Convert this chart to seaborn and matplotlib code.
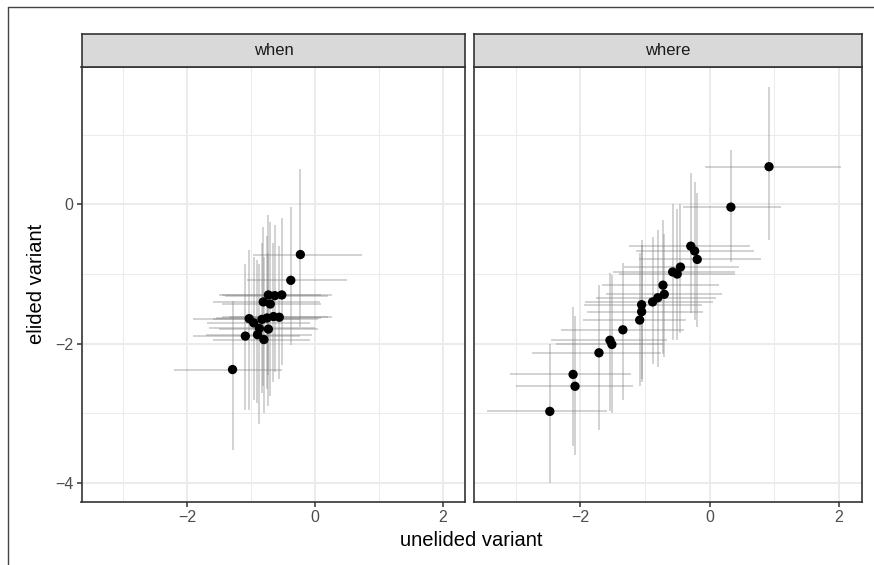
import numpy as np
import pandas as pd
import matplotlib.pyplot as plt
import seaborn as sns
from matplotlib.lines import Line2D

# "when" panel: point estimates and interval ends
when_x = [-0.23, -0.38, -0.73, -0.63, -0.52, -0.81, -0.70, -1.03, -0.96, -0.83,
          -0.75, -0.65, -0.56, -0.87, -0.73, -1.09, -0.90, -0.80, -1.29]
when_y = [-0.72, -1.09, -1.30, -1.31, -1.30, -1.40, -1.43, -1.64, -1.70, -1.65,
          -1.63, -1.61, -1.62, -1.78, -1.79, -1.89, -1.87, -1.94, -2.37]
when_xlo = [-0.97, -1.07, -1.50, -1.40, -1.46, -1.59, -1.45, -1.91, -1.69, -1.60,
            -1.55, -1.45, -1.35, -1.65, -1.50, -1.90, -1.70, -1.59, -2.20]
when_xhi = [0.73, 0.50, 0.10, 0.20, 0.27, 0.08, 0.10, -0.23, -0.08, 0.05,
            0.10, 0.27, 0.20, 0.00, 0.05, -0.23, -0.05, -0.08, -0.52]
when_ylo = [-1.76, -2.02, -2.45, -2.40, -2.30, -2.60, -2.75, -2.95, -2.80, -2.70,
            -2.65, -2.55, -2.50, -3.15, -2.90, -2.95, -2.85, -3.00, -3.52]
when_yhi = [0.51, -0.04, -0.15, -0.30, -0.20, -0.33, -0.25, -0.66, -0.75, -0.55,
            -0.45, -0.55, -0.60, -0.85, -0.70, -0.85, -0.80, -0.75, -1.38]

# "where" panel
where_x = [0.92, 0.33, -0.29, -0.23, -0.19, -0.57, -0.50, -0.45, -0.72, -0.70,
           -0.80, -0.88, -1.05, -1.05, -1.08, -1.34, -1.54, -1.51, -1.71, -2.11,
           -2.08, -2.47]
where_y = [0.54, -0.04, -0.60, -0.67, -0.79, -0.97, -1.00, -0.90, -1.16, -1.29,
           -1.34, -1.40, -1.44, -1.54, -1.66, -1.80, -1.95, -2.01, -2.13, -2.44,
           -2.61, -2.97]
where_xlo = [-0.07, -0.41, -1.25, -1.14, -1.09, -1.50, -1.40, -1.32, -1.66, -1.60,
             -1.75, -1.92, -1.94, -1.90, -1.96, -2.30, -2.45, -2.37, -2.75, -3.09,
             -2.99, -3.44]
where_xhi = [2.04, 1.11, 0.63, 0.68, 0.79, 0.39, 0.40, 0.45, 0.14, 0.20,
             0.10, 0.06, -0.12, -0.10, -0.37, -0.39, -0.66, -0.72, -0.75, -1.21,
             -1.18, -1.58]
where_ylo = [-0.51, -0.83, -1.56, -1.66, -1.76, -1.95, -1.95, -1.85, -2.14, -2.19,
             -2.33, -2.29, -2.50, -2.55, -2.60, -2.81, -2.96, -3.00, -3.23, -3.46,
             -3.60, -4.00]
where_yhi = [1.69, 0.78, 0.45, 0.32, 0.16, 0.01, -0.06, 0.00, -0.22, -0.43,
             -0.37, -0.47, -0.51, -0.58, -0.70, -0.84, -0.99, -1.02, -1.15, -1.47,
             -1.60, -2.00]

panels = ["when", "where"]

df = pd.concat([
    pd.DataFrame({"panel": "when", "x": when_x, "y": when_y, "xlo": when_xlo,
                  "xhi": when_xhi, "ylo": when_ylo, "yhi": when_yhi}),
    pd.DataFrame({"panel": "where", "x": where_x, "y": where_y, "xlo": where_xlo,
                  "xhi": where_xhi, "ylo": where_ylo, "yhi": where_yhi}),
], ignore_index=True)

sns.set_theme(style="white")
plt.rcParams["font.family"] = ["Liberation Sans", "DejaVu Sans"]

W, H = 874, 565
fig = plt.figure(figsize=(W / 100, H / 100), dpi=100)


def box(x0, y0, x1, y1):
    return [x0 / W, 1 - y1 / H, (x1 - x0) / W, (y1 - y0) / H]


panel_px = [(81.5, 465.5), (473.5, 861.5)]
for i, name in enumerate(panels):
    x0, x1 = panel_px[i]
    ax = fig.add_axes(box(x0, 67, x1, 502))
    sub = df[df.panel == name]
    ax.hlines(sub.y, sub.xlo, sub.xhi, color="grey", alpha=0.45, lw=1.1, zorder=2)
    ax.vlines(sub.x, sub.ylo, sub.yhi, color="grey", alpha=0.45, lw=1.1, zorder=2)
    sns.scatterplot(data=sub, x="x", y="y", ax=ax, color="black", s=45,
                    edgecolor="none", zorder=3)
    ax.set_xlim(-3.65, 2.35)
    ax.set_ylim(-4.27, 1.97)
    ax.set_xticks([-2, 0, 2])
    ax.set_xticks([-3, -1, 1], minor=True)
    ax.set_yticks([-4, -2, 0])
    ax.set_yticks([-3, -1, 1], minor=True)
    ax.set_xticklabels(["\u22122", "0", "2"])
    ax.grid(which="major", color="#ebebeb", lw=1.4)
    ax.grid(which="minor", color="#ebebeb", lw=0.7)
    ax.set_axisbelow(True)
    for s in ax.spines.values():
        s.set_color("#333333")
        s.set_linewidth(1.2)
    ax.tick_params(axis="both", which="major", length=3.6, width=1.1,
                   color="#333333", labelcolor="#4d4d4d", labelsize=11.5, pad=2,
                   bottom=True, left=True)
    ax.tick_params(which="minor", length=0)
    if i == 0:
        ax.set_yticklabels(["\u22124", "\u22122", "0"])
    else:
        ax.tick_params(axis="y", which="major", left=False, labelleft=False)
    ax.set_xlabel("")
    ax.set_ylabel("")

    strip = fig.add_axes(box(x0, 34, x1, 66.5))
    strip.set_facecolor("#d9d9d9")
    strip.set_xticks([])
    strip.set_yticks([])
    for s in strip.spines.values():
        s.set_color("#333333")
        s.set_linewidth(1.2)
    strip.text(0.5, 0.5, name, ha="center", va="center", fontsize=12,
               color="#1a1a1a", transform=strip.transAxes)

fig.text(471 / W, 1 - 540 / H, "unelided variant", ha="center", va="center",
         fontsize=14.5, color="black")
fig.text(36 / W, 1 - 284 / H, "elided variant", ha="center", va="center",
         fontsize=14.5, color="black", rotation=90)

# outer frame lines
fig.add_artist(Line2D([8 / W, 1], [1 - 7 / H, 1 - 7 / H], color="#444444", lw=1.0))
fig.add_artist(Line2D([8 / W, 8 / W], [0, 1 - 7 / H], color="#444444", lw=1.0))

fig.savefig("out.png", dpi=100)
